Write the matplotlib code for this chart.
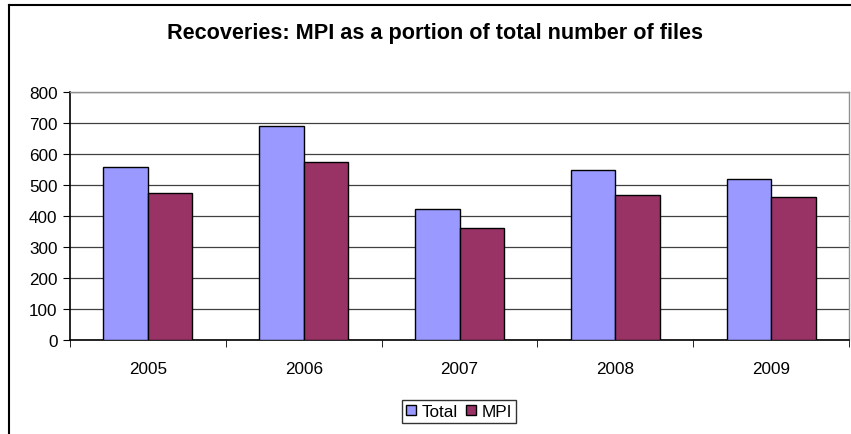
import matplotlib.pyplot as plt
from matplotlib.lines import Line2D
from matplotlib.patches import Patch
import numpy as np

plt.rcParams['font.family'] = ['Liberation Sans', 'DejaVu Sans']

# recoveries per year
years = ['2005', '2006', '2007', '2008', '2009']
total = [560, 690, 425, 550, 520]
mpi = [475, 575, 362, 469, 461]

fig = plt.figure(figsize=(8.51, 4.35), dpi=100)
ax = fig.add_axes([0.0823, 0.2154, 0.9154, 0.5701])

x = np.arange(len(years))
w = 1 / 3.5
ax.bar(x - w / 2, total, w, color='#9999FF', edgecolor='black', linewidth=1, zorder=3)
ax.bar(x + w / 2, mpi, w, color='#993366', edgecolor='black', linewidth=1, zorder=3)

ax.set_xlim(-0.5, len(years) - 0.5)
ax.set_ylim(0, 800)
ax.set_yticks(range(0, 801, 100))
ax.yaxis.grid(True, color='#404040', linewidth=0.9, zorder=0)

# category labels centred, ticks on the category boundaries
ax.set_xticks(x)
ax.set_xticklabels(years)
ax.set_xticks(np.arange(len(years) + 1) - 0.5, minor=True)
ax.tick_params(axis='x', which='major', length=0, pad=15, labelsize=12.3)
ax.tick_params(axis='x', which='minor', length=5, direction='out', color='black')
ax.tick_params(axis='y', length=5, direction='out', labelsize=12.3, pad=4)

for side in ['left', 'bottom']:
    ax.spines[side].set_color('black')
    ax.spines[side].set_linewidth(1.2)
for side in ['top', 'right']:
    ax.spines[side].set_color('#909090')
    ax.spines[side].set_linewidth(1)

fig.text(0.511, 0.922, 'Recoveries: MPI as a portion of total number of files',
         ha='center', va='center', fontsize=15.6, fontweight='bold')

handles = [Patch(facecolor='#9999FF', edgecolor='black', label='Total'),
           Patch(facecolor='#993366', edgecolor='black', label='MPI')]
leg = fig.legend(handles=handles, loc='center', bbox_to_anchor=(459 / 851, 1 - 412.5 / 435),
                 ncol=2, fontsize=12.3, frameon=True, fancybox=False, handlelength=0.6,
                 handleheight=0.6, handletextpad=0.3, columnspacing=0.5,
                 borderpad=0.25, borderaxespad=0)
leg.get_frame().set_edgecolor('black')
leg.get_frame().set_linewidth(1)

# outer chart border (left and top edges)
fig.add_artist(Line2D([9 / 851, 9 / 851], [0, 1 - 6 / 435], color='black', linewidth=1.5,
                      transform=fig.transFigure))
fig.add_artist(Line2D([9 / 851, 1], [1 - 6 / 435, 1 - 6 / 435], color='black', linewidth=1.5,
                      transform=fig.transFigure))

fig.savefig('out.png', dpi=100)
